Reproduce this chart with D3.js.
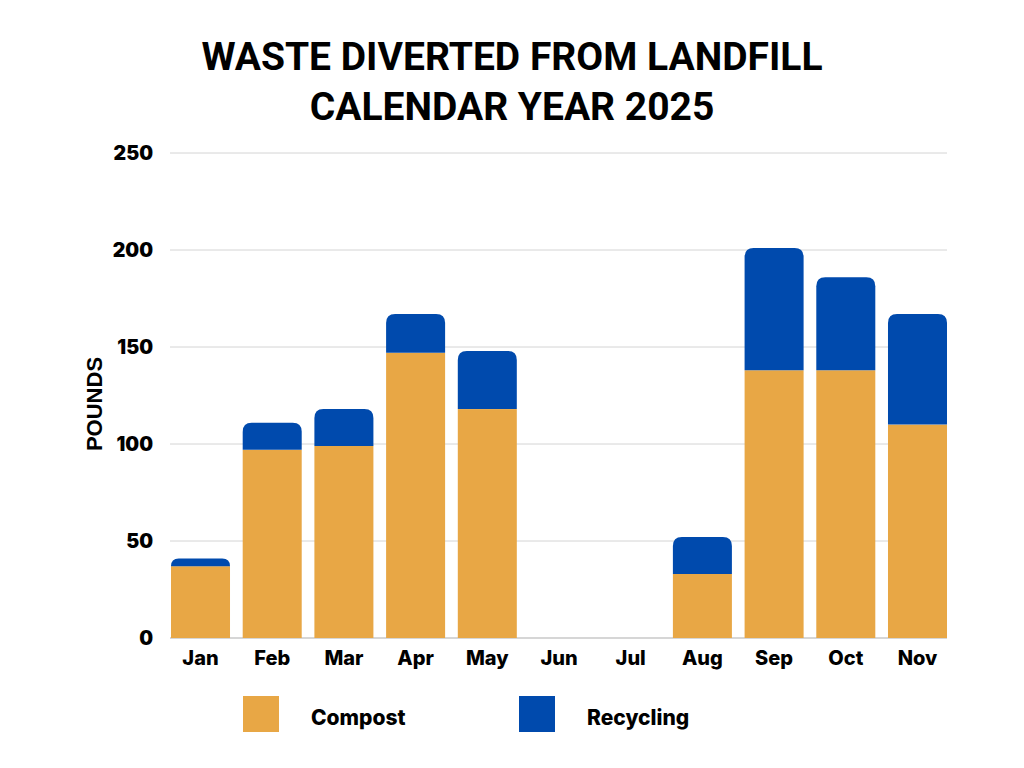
<!DOCTYPE html>
<html>
<head>
<meta charset="utf-8">
<script src="https://cdn.jsdelivr.net/npm/d3@7"></script>
<style>
  body { margin: 0; background: #fff; }
  svg { display: block; }
</style>
</head>
<body>
<div id="chart"></div>
<script>
const months = ["Jan", "Feb", "Mar", "Apr", "May", "Jun", "Jul", "Aug", "Sep", "Oct", "Nov"];
const compost = [37, 97, 99, 147, 118, 0, 0, 33, 138, 138, 110];
const recycling = [4, 14, 19, 20, 30, 0, 0, 19, 63, 48, 57];
const yTicks = [0, 50, 100, 150, 200, 250];
const seriesNames = ["Compost", "Recycling"];
const seriesColors = ["#E8A745", "#004AAD"];

const width = 1024, height = 768;
const plotLeft = 171, plotRight = 947, plotTop = 153, plotBottom = 638;

const svg = d3.select("#chart").append("svg")
  .attr("width", width)
  .attr("height", height);

// title
svg.append("text")
  .attr("x", 512).attr("y", 70)
  .attr("text-anchor", "middle")
  .style("font-family", "Roboto, 'Liberation Sans', sans-serif")
  .style("font-weight", 700)
  .style("font-size", "39px")
  .text("WASTE DIVERTED FROM LANDFILL");
svg.append("text")
  .attr("x", 512).attr("y", 120)
  .attr("text-anchor", "middle")
  .style("font-family", "Roboto, 'Liberation Sans', sans-serif")
  .style("font-weight", 700)
  .style("font-size", "39px")
  .text("CALENDAR YEAR 2025");

const x = d3.scaleBand()
  .domain(months)
  .range([plotLeft, plotRight])
  .paddingInner(0.177)
  .paddingOuter(0);

const y = d3.scaleLinear()
  .domain([0, 250])
  .range([plotBottom, plotTop]);

// gridlines
svg.append("g")
  .selectAll("line")
  .data(yTicks)
  .enter().append("line")
  .attr("x1", plotLeft - 1).attr("x2", plotRight)
  .attr("y1", d => y(d)).attr("y2", d => y(d))
  .attr("stroke", d => d === 0 ? "#d6d6d6" : "#d4d4d4")
  .attr("stroke-width", d => d === 0 ? 2 : 1);

// y axis labels
const yAxis = d3.axisLeft(y).tickValues(yTicks).tickSize(0).tickPadding(18);
const gy = svg.append("g")
  .attr("transform", "translate(" + plotLeft + ",0)")
  .call(yAxis);
gy.select(".domain").remove();
gy.selectAll("text")
  .style("font-family", "Inter, 'Liberation Sans', sans-serif")
  .style("font-weight", 900)
  .style("font-size", "19.5px")
  .attr("fill", "#000");

// x axis labels
const xAxis = d3.axisBottom(x).tickSize(0).tickPadding(13);
const gx = svg.append("g")
  .attr("transform", "translate(0," + plotBottom + ")")
  .call(xAxis);
gx.select(".domain").remove();
gx.selectAll("text")
  .style("font-family", "Inter, 'Liberation Sans', sans-serif")
  .style("font-weight", 800)
  .style("font-size", "20px")
  .attr("fill", "#000");

// y title
svg.append("text")
  .attr("transform", "translate(101.5,404) rotate(-90)")
  .attr("text-anchor", "middle")
  .style("font-family", "'Liberation Sans', Arial, sans-serif")
  .style("font-weight", 700)
  .style("font-size", "22px")
  .text("POUNDS");

// bars
function topRounded(x0, y0, w, h, r) {
  r = Math.min(r, h, w / 2);
  return "M" + x0 + "," + (y0 + h) +
    "V" + (y0 + r) +
    "Q" + x0 + "," + y0 + " " + (x0 + r) + "," + y0 +
    "H" + (x0 + w - r) +
    "Q" + (x0 + w) + "," + y0 + " " + (x0 + w) + "," + (y0 + r) +
    "V" + (y0 + h) + "Z";
}

const bars = svg.append("g");
months.forEach(function (m, i) {
  const c = compost[i], r = recycling[i];
  if (c + r <= 0) return;
  bars.append("rect")
    .attr("x", x(m))
    .attr("y", y(c))
    .attr("width", x.bandwidth())
    .attr("height", y(0) - y(c))
    .attr("fill", seriesColors[0]);
  bars.append("path")
    .attr("d", topRounded(x(m), y(c + r), x.bandwidth(), y(c) - y(c + r), 9))
    .attr("fill", seriesColors[1]);
});

// legend
const legendX = [243, 519];
const legend = svg.append("g");
seriesNames.forEach(function (name, i) {
  legend.append("rect")
    .attr("x", legendX[i]).attr("y", 696)
    .attr("width", 36).attr("height", 36)
    .attr("fill", seriesColors[i]);
  legend.append("text")
    .attr("x", legendX[i] + 68).attr("y", 725)
    .style("font-family", "Inter, 'Liberation Sans', sans-serif")
    .style("font-weight", 800)
    .style("font-size", "21px")
    .text(name);
});
</script>
</body>
</html>
